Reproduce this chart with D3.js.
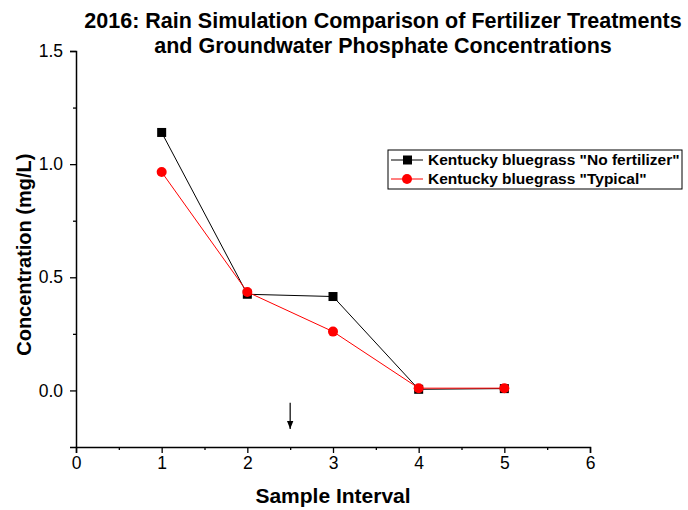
<!DOCTYPE html>
<html>
<head>
<meta charset="utf-8">
<script src="https://cdn.jsdelivr.net/npm/d3@7"></script>
<style>
body { margin: 0; background: #fff; }
text { font-family: "Liberation Sans", Arial, sans-serif; }
</style>
</head>
<body>
<div id="chart"></div>
<script>
// values
var intervals = [1, 2, 3, 4, 5];
var noFertilizer = [1.14, 0.425, 0.415, 0.005, 0.008];
var typical = [0.965, 0.435, 0.26, 0.01, 0.01];
var seriesNames = ['Kentucky bluegrass "No fertilizer"', 'Kentucky bluegrass "Typical"'];
var xTicks = [0, 1, 2, 3, 4, 5, 6];
var yTicks = [0, 0.5, 1.0, 1.5];

var width = 688, height = 510;
var margin = {top: 51, right: 98, bottom: 63, left: 76};

var svg = d3.select('#chart')
    .append('svg')
    .attr('width', width)
    .attr('height', height);

var x = d3.scaleLinear().domain([0, 6]).range([margin.left, width - margin.right]);
var y = d3.scaleLinear().domain([-0.25, 1.5]).range([height - margin.bottom, margin.top]);

// x axis
svg.append('g')
    .attr('transform', 'translate(0,' + y(-0.25) + ')')
    .call(d3.axisBottom(x).tickValues(xTicks).tickFormat(d3.format('d')).tickSize(6).tickPadding(4));
svg.append('g')
    .attr('transform', 'translate(0,' + y(-0.25) + ')')
    .call(d3.axisBottom(x).tickValues(d3.range(0.5, 6, 1)).tickFormat('').tickSize(3))
    .select('.domain').remove();

// y axis
svg.append('g')
    .attr('transform', 'translate(' + x(0) + ',0)')
    .call(d3.axisLeft(y).tickValues(yTicks).tickFormat(d3.format('.1f')).tickSize(6).tickPadding(7));
svg.append('g')
    .attr('transform', 'translate(' + x(0) + ',0)')
    .call(d3.axisLeft(y).tickValues([1.25, 0.75, 0.25]).tickFormat('').tickSize(3))
    .select('.domain').remove();

svg.selectAll('.domain').attr('stroke-width', 1.5);
svg.selectAll('.tick line').attr('stroke-width', 1.3);
svg.selectAll('.tick text').attr('font-size', 17.5).attr('fill', '#000')
    .style('font-family', '"Liberation Sans", Arial, sans-serif');

// axis titles
svg.append('text')
    .attr('x', x(3)).attr('y', 503)
    .attr('text-anchor', 'middle')
    .attr('font-size', 21).attr('font-weight', 'bold')
    .text('Sample Interval');
svg.append('text')
    .attr('transform', 'translate(31,' + y(0.6) + ') rotate(-90)')
    .attr('text-anchor', 'middle')
    .attr('font-size', 20).attr('font-weight', 'bold')
    .text('Concentration (mg/L)');

// chart title
svg.append('text')
    .attr('x', 383).attr('y', 28)
    .attr('text-anchor', 'middle')
    .attr('font-size', 21.5).attr('font-weight', 'bold')
    .text('2016: Rain Simulation Comparison of Fertilizer Treatments');
svg.append('text')
    .attr('x', 383).attr('y', 53)
    .attr('text-anchor', 'middle')
    .attr('font-size', 21.5).attr('font-weight', 'bold')
    .text('and Groundwater Phosphate Concentrations');

// series
var line = d3.line()
    .x(function(d) { return x(d[0]); })
    .y(function(d) { return y(d[1]); });

var black = d3.zip(intervals, noFertilizer);
var red = d3.zip(intervals, typical);

svg.append('path').datum(black)
    .attr('d', line).attr('fill', 'none').attr('stroke', '#000').attr('stroke-width', 1);
svg.selectAll('rect.pt').data(black).enter().append('rect')
    .attr('class', 'pt')
    .attr('x', function(d) { return x(d[0]) - 4.5; })
    .attr('y', function(d) { return y(d[1]) - 4.5; })
    .attr('width', 9).attr('height', 9)
    .attr('fill', '#000');

svg.append('path').datum(red)
    .attr('d', line).attr('fill', 'none').attr('stroke', '#ff0000').attr('stroke-width', 1);
svg.selectAll('circle.pt').data(red).enter().append('circle')
    .attr('class', 'pt')
    .attr('cx', function(d) { return x(d[0]); })
    .attr('cy', function(d) { return y(d[1]); })
    .attr('r', 5)
    .attr('fill', '#ff0000');

// arrow at interval 2.5
svg.append('defs').append('marker')
    .attr('id', 'head')
    .attr('viewBox', '0 0 10 10')
    .attr('refX', 10).attr('refY', 5)
    .attr('markerWidth', 8).attr('markerHeight', 8)
    .attr('markerUnits', 'userSpaceOnUse')
    .attr('orient', 'auto')
    .append('path').attr('d', 'M0,1 L10,5 L0,9 Z').attr('fill', '#000');
svg.append('line')
    .attr('x1', x(2.5)).attr('x2', x(2.5))
    .attr('y1', y(-0.055)).attr('y2', y(-0.17))
    .attr('stroke', '#000').attr('stroke-width', 1.2)
    .attr('marker-end', 'url(#head)');

// legend
var legend = svg.append('g').attr('transform', 'translate(388,150)');
legend.append('rect')
    .attr('width', 294).attr('height', 39)
    .attr('fill', '#fff').attr('stroke', '#000').attr('stroke-width', 1);
var rows = legend.selectAll('g.row').data(seriesNames).enter().append('g')
    .attr('class', 'row')
    .attr('transform', function(d, i) { return 'translate(0,' + (10 + i * 19) + ')'; });
rows.append('line')
    .attr('x1', 3).attr('x2', 35)
    .attr('stroke', function(d, i) { return i ? '#ff0000' : '#000'; });
rows.each(function(d, i) {
    var g = d3.select(this);
    if (i === 0) {
        g.append('rect').attr('x', 15).attr('y', -4.5).attr('width', 9).attr('height', 9).attr('fill', '#000');
    } else {
        g.append('circle').attr('cx', 19).attr('r', 5).attr('fill', '#ff0000');
    }
});
rows.append('text')
    .attr('x', 40).attr('dy', '0.35em')
    .attr('font-size', 15.5).attr('font-weight', 'bold')
    .text(function(d) { return d; });
</script>
</body>
</html>
